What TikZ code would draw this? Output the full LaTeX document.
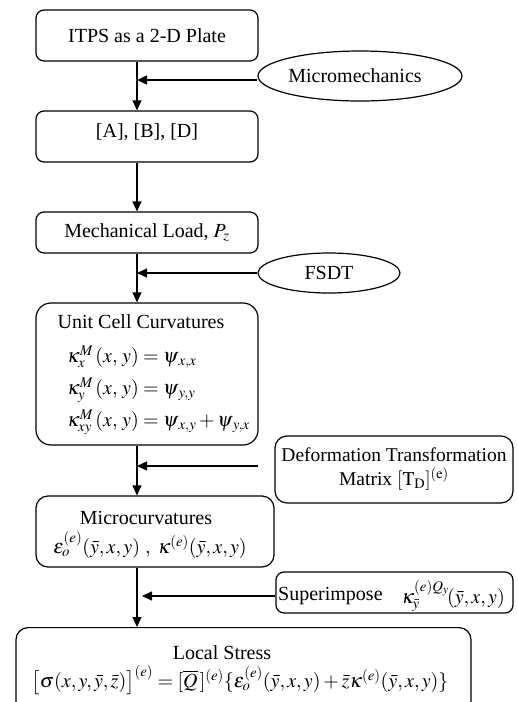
\documentclass[tikz,border=0pt]{standalone}
\usepackage{mathptmx}
\usepackage{fontspec}
\setmainfont{Liberation Serif}
\usetikzlibrary{arrows.meta,shapes.geometric}
\begin{document}
\begin{tikzpicture}[x=1pt,y=-1pt,
  font=\fontsize{20}{24}\selectfont,
  box/.style={draw, line width=1.2pt, rounded corners=#1, inner sep=0pt},
  box/.default=8pt,
  ell/.style={draw, ellipse, line width=1.2pt, inner sep=0pt},
  txt/.style={inner sep=0pt},
  arr/.style={-{Triangle[length=10pt,width=9pt]}, line width=1.2pt}]
\useasboundingbox (0,0) rectangle (518,702);
% boxes
\node[box, minimum width=222pt, minimum height=51pt] (b1) at (147,35.5) {ITPS as a 2-D Plate};
\node[box, minimum width=222pt, minimum height=51pt] (b2) at (147,136.5) {};
\node[txt] (t2) at (147,132) {[A], [B], [D]};
\node[box, minimum width=222pt, minimum height=41pt] (b3) at (147,232.5) {Mechanical Load, $P_z$};
\node[box=15pt, minimum width=222pt, minimum height=142pt] (b4) at (147,374) {};
\node[txt] (t4) at (141,322) {Unit Cell Curvatures};
\node[txt, anchor=west] (e4a) at (67,357) {$\kappa^{M}_{x}\,(x,\,y) = \psi_{\,x,x}$};
\node[txt, anchor=west] (e4b) at (67,390) {$\kappa^{M}_{y}\,(x,\,y) = \psi_{\,y,y}$};
\node[txt, anchor=west] (e4c) at (67,422) {$\kappa^{M}_{xy}\,(x,\,y) = \psi_{\,x,y} + \psi_{\,y,x}$};
\node[box=12pt, minimum width=238pt, minimum height=71pt] (b5) at (155,531.5) {};
\node[txt] (t5a) at (146,518) {Microcurvatures};
\node[txt] (t5b) at (150,545) {$\varepsilon^{(e)}_{o}(\bar{y},x,y)\ ,\ \kappa^{(e)}(\bar{y},x,y)$};
\node[box=12pt, minimum width=455pt, minimum height=100pt, anchor=north] (b6) at (243.5,627) {};
\node[txt] (t6a) at (222,653) {Local Stress};
\node[txt] (t6b) at (240,680) {$\bigl[\sigma(x,y,\bar{y},\bar{z})\bigr]^{(e)} =[\overline{Q}\,]^{(e)}\{\varepsilon^{(e)}_{o}(\bar{y},x,y)+\bar{z}\kappa^{(e)}(\bar{y},x,y)\}$};
\node[ell, minimum width=204pt, minimum height=50pt] (mm) at (360,76) {Micromechanics\hspace*{10pt}};
\node[ell, minimum width=142pt, minimum height=40pt] (fs) at (329,273) {FSDT};
\node[box=12pt, minimum width=238pt, minimum height=67pt, align=center, font=\fontsize{19.5}{24}\selectfont] (dt) at (394,469.5) {Deformation Transformation\\Matrix $[\mathrm{T}_{\mathrm{D}}]^{(\mathrm{e})}$};
\node[box, minimum width=237pt, minimum height=41pt] (sp) at (394.5,592.5) {};
\node[txt, anchor=west] (sp1) at (278,596) {Superimpose};
\node[txt, anchor=east] (sp2) at (505,596) {$\kappa^{(e)Q_y}_{\bar{y}}\!(\bar{y},x,y)$};
% connectors
\coordinate (sx) at (137,0);
\coordinate (mmy) at (0,80);
\coordinate (fsy) at (0,273);
\coordinate (dts) at (258,466);
\coordinate (spy) at (0,596);
\draw[arr] (b1.south -| sx) -- (b2.north -| sx);
\draw[arr] (b2.south -| sx) -- (b3.north -| sx);
\draw[arr] (b3.south -| sx) -- (b4.north -| sx);
\draw[arr] (b4.south -| sx) -- (b5.north -| sx);
\draw[arr] (b5.south -| sx) -- (b6.north -| sx);
\draw[arr] (mm.west |- mmy) -- (sx |- mmy);
\draw[arr] (fs.west |- fsy) -- (sx |- fsy);
\draw[arr] (dts) -- (sx |- dts);
\draw[arr, shorten >=5pt] (sp.west |- spy) -- (sx |- spy);
\end{tikzpicture}
\end{document}
